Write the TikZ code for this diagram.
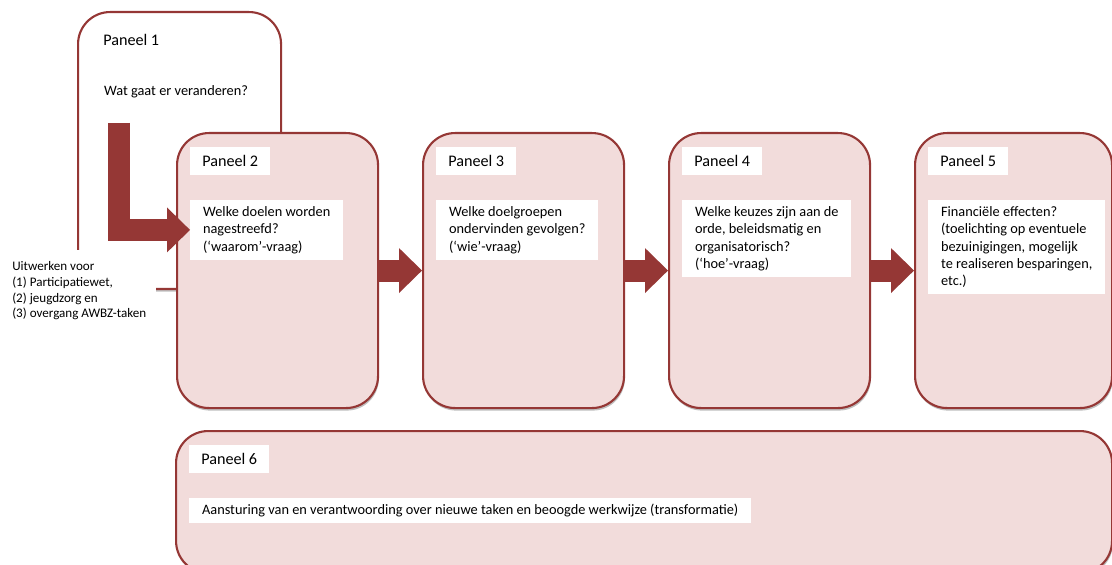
\documentclass[tikz,border=0pt]{standalone}
\usepackage{fontspec}
\setmainfont{Carlito}
\usepackage{tikz}
\usetikzlibrary{calc,positioning,arrows.meta,shadows}
\definecolor{paneelrood}{RGB}{149,55,53}
\definecolor{paneelroze}{RGB}{242,220,219}
\tikzset{
  panel/.style={
    draw=paneelrood,line width=1.5pt,fill=paneelroze,rounded corners=0.8cm,
    anchor=north west,inner sep=0pt,
    drop shadow={shadow xshift=0.6pt,shadow yshift=-1.8pt,fill=black,opacity=0.25},
  },
  firstpanel/.style={panel,fill=white},
  titlebox/.style={fill=white,inner xsep=0.3cm,inner ysep=0pt,minimum height=0.7cm,
    font=\fontsize{11.5}{13.8}\selectfont},
  textbox/.style={fill=white,inner xsep=0.32cm,inner ysep=0.15cm,align=left,
    font=\fontsize{10.2}{12.4}\selectfont},
  sidebox/.style={fill=white,inner xsep=0.25cm,inner ysep=0.28cm,align=left,
    font=\fontsize{9.3}{11.2}\selectfont},
  flow/.style={draw=paneelrood,line width=0.55cm,
    -{Triangle[length=0.575cm,width=1.125cm,line width=0pt]}},
}

\begin{document}
\begin{tikzpicture}
    \useasboundingbox (0,0) rectangle (27.8,-14.125);
    % panels
    \node[firstpanel,minimum width=5.075cm,minimum height=6.925cm] (p1) at (1.925,-0.275) {};
    \foreach \i/\x in {2/4.4,3/10.55,4/16.7}
        \node[panel,minimum width=5.025cm,minimum height=6.875cm] (p\i) at (\x,-3.3) {};
    \node[panel,minimum width=4.925cm,minimum height=6.875cm] (p5) at (22.85,-3.3) {};
    \node[panel,minimum width=23.4cm,minimum height=3.55cm] (p6) at (4.375,-10.75) {};
    % side note
    \node[sidebox,anchor=north west] (uitw) at (0.05,-6.25)
        {Uitwerken voor\\(1) Participatiewet,\\(2) jeugdzorg en\\(3) overgang AWBZ-taken};
    % labels
    \foreach \i in {1,...,6}
        \node[titlebox,below right=0.375cm and 0.35cm of p\i.north west] (t\i) {Paneel \i};
    \node[textbox,below right=1.7cm and 0.35cm of p1.north west] (q1)
        {Wat gaat er veranderen?};
    \node[textbox,below right=1.7cm and 0.35cm of p2.north west] (q2)
        {Welke doelen worden\\nagestreefd?\\(‘waarom’-vraag)};
    \node[textbox,below right=1.7cm and 0.35cm of p3.north west] (q3)
        {Welke doelgroepen\\ondervinden gevolgen?\\(‘wie’-vraag)};
    \node[textbox,below right=1.7cm and 0.35cm of p4.north west] (q4)
        {Welke keuzes zijn aan de\\orde, beleidsmatig en\\organisatorisch?\\(‘hoe’-vraag)};
    \node[textbox,below right=1.7cm and 0.35cm of p5.north west] (q5)
        {Financiële effecten?\\(toelichting op eventuele\\bezuinigingen, mogelijk\\te realiseren besparingen,\\etc.)};
    \node[textbox,below right=1.7cm and 0.35cm of p6.north west] (q6)
        {Aansturing van en verantwoording over nieuwe taken en beoogde werkwijze (transformatie)};
    % arrows
    \coordinate (lstart) at (2.975,-3.075);
    \draw[flow] (lstart) |- (q2.west);
    \foreach \a/\b in {p2/p3,p3/p4,p4/p5}
        \draw[flow] (\a.east) -- (\b.west);
\end{tikzpicture}
\end{document}
